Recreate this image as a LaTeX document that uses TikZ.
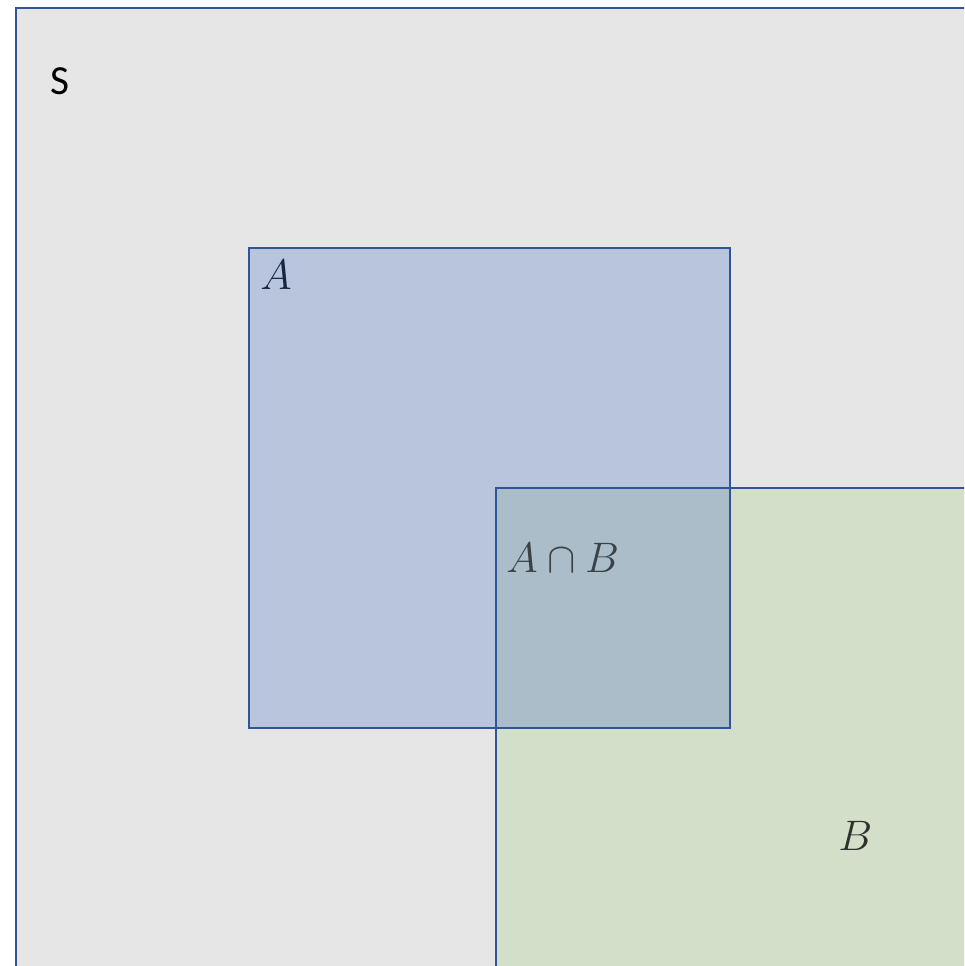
\RequirePackage{fix-cm}
\documentclass[tikz,border=0pt]{standalone}
\usepackage{fontspec}
\newfontfamily\labelfont{Carlito}
\usetikzlibrary{positioning}

\definecolor{setline}{HTML}{2F5597}
\definecolor{spacefill}{HTML}{E6E6E6}
\definecolor{afill}{HTML}{B8C5DC}
\definecolor{bfill}{HTML}{D4DFCA}
\definecolor{abfill}{HTML}{AABDC8}

\begin{document}
\begin{tikzpicture}[
  x=0.75pt,y=-0.75pt,
  setbox/.style={draw=setline,line width=1.5pt},
  setname/.style={anchor=base west,inner sep=0pt,font=\fontsize{32}{36}\selectfont},
]
\useasboundingbox (0,0) rectangle (964,966);
\begin{scope}
  \clip (0,0) rectangle (964,966);

  % ---- fills: sample space, B, A, overlap ----
  \fill[spacefill] (16,8) rectangle (1000,1000);
  \fill[bfill] (496,488) rectangle (1000,1000);
  \fill[afill] (249,248) rectangle (730,728);
  \fill[abfill] (496,488) rectangle (730,728);

  % ---- outlines on top ----
  \draw[setbox] (16,1000) -- (16,8) -- (1000,8);
  \draw[setbox] (496,1000) -- (496,488) -- (1000,488);
  \draw[setbox] (249,248) rectangle (730,728);
\end{scope}

% ---- labels ----
\node[setname,font=\labelfont\fontsize{31}{34}\selectfont] (sname) at (50,95) {S};
\node[setname,text=setline!45!black] (aname) at (260,289) {$A$};
\node[setname,text=abfill!35!black] (abname) at (506,572) {$A\cap B$};
\node[setname,text=bfill!22!black] (bname) at (838,850) {$B$};
\end{tikzpicture}
\end{document}
